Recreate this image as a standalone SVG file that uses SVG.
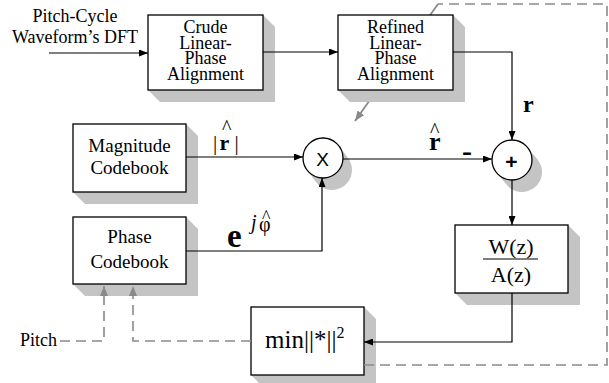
<svg xmlns="http://www.w3.org/2000/svg" width="609" height="383" viewBox="0 0 609 383">
<defs>
<style>
.box{fill:#fff;stroke:#000;stroke-width:1.3}
.sh{fill:#c4c4c4;stroke:none}
.ln{fill:none;stroke:#000;stroke-width:1.2}
.dash{fill:none;stroke:#8a8a8a;stroke-width:1.6;stroke-dasharray:10 6}
.gl{fill:none;stroke:#8a8a8a;stroke-width:1.8}
.t{font-family:"Liberation Serif","Times New Roman",serif;fill:#000}
.s{font-family:"Liberation Sans",Arial,sans-serif;fill:#000}
</style>
<marker id="ah" markerWidth="9" markerHeight="7" refX="9" refY="3.5" orient="auto" markerUnits="userSpaceOnUse"><path d="M0,0 L9,3.5 L0,7 z" fill="#000"/></marker>
<marker id="ag" markerWidth="10" markerHeight="8" refX="10" refY="4" orient="auto" markerUnits="userSpaceOnUse"><path d="M0,0 L10,4 L0,8 z" fill="#8a8a8a"/></marker>
</defs>
<rect width="609" height="383" fill="#fff"/>

<!-- diagonal adjust arrow (behind refined box) -->
<line class="gl" x1="438" y1="4" x2="355" y2="121" marker-end="url(#ag)"/>

<g id="crude">
<polygon class="sh" points="263,15 275,27 275,102 160,102 148,90"/>
<rect class="box" x="148" y="15" width="115" height="75"/>
<text class="t" font-size="18" text-anchor="middle"><tspan x="205.5" y="33">Crude</tspan><tspan x="205.5" y="48.5">Linear-</tspan><tspan x="205.5" y="64">Phase</tspan><tspan x="205.5" y="80">Alignment</tspan></text>
</g>
<g id="refined">
<polygon class="sh" points="453,15 465,27 465,102 350,102 338,90"/>
<rect class="box" x="338" y="15" width="115" height="75"/>
<text class="t" font-size="18" text-anchor="middle"><tspan x="395.5" y="33">Refined</tspan><tspan x="395.5" y="48.5">Linear-</tspan><tspan x="395.5" y="64">Phase</tspan><tspan x="395.5" y="80">Alignment</tspan></text>
</g>
<g id="magnitude">
<polygon class="sh" points="186,124 198,136 198,204 85,204 73,192"/>
<rect class="box" x="73" y="124" width="113" height="68"/>
<text class="t" font-size="19" text-anchor="middle"><tspan x="129.5" y="152">Magnitude</tspan><tspan x="129.5" y="174">Codebook</tspan></text>
</g>
<g id="phase">
<polygon class="sh" points="186,217 198,229 198,296 85,296 73,284"/>
<rect class="box" x="73" y="217" width="113" height="67"/>
<text class="t" font-size="19" text-anchor="middle"><tspan x="129.5" y="243">Phase</tspan><tspan x="129.5" y="268">Codebook</tspan></text>
</g>
<g id="minbox">
<polygon class="sh" points="364,307 376,319 376,387 263,387 251,375"/>
<rect class="box" x="251" y="307" width="113" height="68"/>
<text class="t" font-size="25" x="265" y="348">min||*||<tspan font-size="16" dy="-10">2</tspan></text>
</g>
<g id="filter">
<polygon class="sh" points="568,225 580,237 580,305 467,305 455,293"/>
<rect class="box" x="455" y="225" width="113" height="68"/>
<text class="t" font-size="22" text-anchor="middle" x="511" y="254">W(z)</text>
<line x1="483" y1="259" x2="538" y2="259" stroke="#000" stroke-width="1.2"/>
<text class="t" font-size="22" text-anchor="middle" x="511" y="282">A(z)</text>
</g>
<g id="mult">
<line x1="323" y1="158" x2="332" y2="170" stroke="#c4c4c4" stroke-width="40" stroke-linecap="round"/>
<circle class="box" cx="323" cy="158" r="20" stroke-width="1.2"/>
<text class="s" font-size="19" text-anchor="middle" x="322.5" y="165.5">X</text>
</g>
<g id="sum">
<line x1="512" y1="160" x2="522" y2="172" stroke="#c4c4c4" stroke-width="40" stroke-linecap="round"/>
<circle class="box" cx="512" cy="160" r="20" stroke-width="1.2"/>
<text class="s" font-size="21" font-weight="bold" text-anchor="middle" x="511.5" y="169">+</text>
</g>

<g id="connectors">
<line class="ln" x1="49" y1="53" x2="148" y2="53" marker-end="url(#ah)"/>
<line class="ln" x1="263" y1="52" x2="338" y2="52" marker-end="url(#ah)"/>
<polyline class="ln" points="453,52 512,52 512,140" marker-end="url(#ah)"/>
<line class="ln" x1="186" y1="157" x2="303" y2="157" marker-end="url(#ah)"/>
<polyline class="ln" points="186,251 322,251 322,178" marker-end="url(#ah)"/>
<line class="ln" x1="343" y1="159" x2="492" y2="159" marker-end="url(#ah)"/>
<line class="ln" x1="512" y1="180" x2="512" y2="225" marker-end="url(#ah)"/>
<polyline class="ln" points="512,293 512,342 364,342" marker-end="url(#ah)"/>
<polyline class="dash" points="364,365 607,365 607,4 438,4"/>
<polyline class="dash" points="60,341 104,341 104,286" marker-end="url(#ag)"/>
<polyline class="dash" points="251,341 133,341 133,286" marker-end="url(#ag)"/>
</g>

<g id="labels">
<text class="t" font-size="18" text-anchor="middle"><tspan x="75" y="22">Pitch-Cycle</tspan><tspan x="75" y="43">Waveform’s DFT</tspan></text>
<text class="t" font-size="18" x="20" y="346">Pitch</text>
<text class="t" font-size="24" font-weight="bold" x="523" y="112">r</text>
<text class="t"><tspan font-size="26" font-weight="bold" x="429" y="150">r</tspan><tspan font-size="20" x="430" y="137">^</tspan></text>
<text class="t" font-size="30" font-weight="bold" x="462" y="161">-</text>
<text class="t" font-size="21"><tspan x="213" y="150">|</tspan><tspan font-size="22" font-weight="bold" x="219.5" y="150">r</tspan><tspan x="234.5" y="150">|</tspan><tspan font-size="20" x="222" y="134">^</tspan></text>
<text class="t"><tspan font-size="33" font-weight="bold" x="227" y="247">e</tspan><tspan font-size="20" font-style="italic" x="251" y="229">j</tspan><tspan font-size="20" x="259" y="231">φ</tspan><tspan font-size="18" x="262" y="223">^</tspan></text>
</g>
</svg>
